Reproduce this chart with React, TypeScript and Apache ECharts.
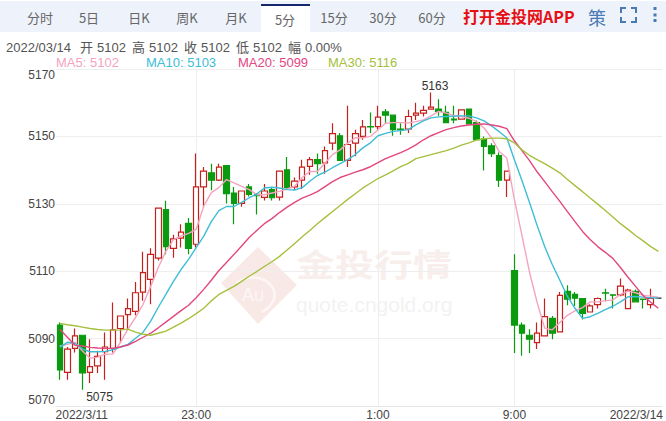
import React, { useEffect, useRef } from "react";
import * as echarts from "echarts";

const times = [
  "21:30","21:35","21:40","21:45","21:50","21:55","22:00","22:05","22:10","22:15",
  "22:20","22:25","22:30","22:35","22:40","22:45","22:50","22:55","23:00","23:05",
  "23:10","23:15","23:20","23:25","23:30","23:35","23:40","23:45","23:50","23:55",
  "0:00","0:05","0:10","0:15","0:20","0:25","0:30","0:35","0:40","0:45",
  "0:50","0:55","1:00","1:05","1:10","1:15","1:20","1:25","1:30","1:35",
  "1:40","1:45","1:50","1:55","2:00","2:05","2:10","2:15","2:20","2:25",
  "9:00","9:05","9:10","9:15","9:20","9:25","9:30","9:35","9:40","9:45",
  "9:50","9:55","10:00","10:05","10:10","10:15","10:20","10:25","10:30","10:35",
];
const labelledTicks: Record<number, string> = { 0: "{first|2022/3/11}", 18: "23:00", 42: "1:00", 60: "9:00", 79: "{last|2022/3/14}" };
const gridTicks = [18, 42, 60];

const yTicks = { min: 5070, max: 5170, step: 20 };

// [open, close, low, high]
const candles = [
  [5094,5080.7,5077.8,5094.8],[5080,5086.9,5077.8,5087.5],[5087.1,5090.8,5085.9,5093],[5091,5079.8,5074.8,5091],
  [5080,5081.7,5076.8,5089.8],[5081.9,5084.7,5079.8,5086.4],[5086.1,5087.5,5077.8,5091.8],[5087.1,5092.6,5085.9,5100.7],
  [5093,5096.7,5088.8,5096.7],[5097.1,5098.9,5092.8,5101.9],[5098.1,5103.6,5096.9,5106.8],[5103.8,5109.6,5101.2,5115.8],
  [5107.6,5115,5100.2,5116.8],[5113.9,5128.7,5113.2,5128.7],[5128.3,5117.3,5115,5130.9],[5116.8,5119.6,5114,5120.8],
  [5119.8,5121.6,5117,5123.9],[5124.2,5116.8,5115,5125.8],[5118,5135,5117,5144.9],[5135,5139.7,5128.9,5140.9],
  [5139.2,5137,5134,5141.9],[5137,5140.9,5136.8,5141.9],[5141.3,5133,5130.1,5141.3],[5133.2,5130.1,5123.9,5135],
  [5130.1,5133.8,5129.1,5133.8],[5135,5132.8,5132.2,5135.9],[5132.8,5132.4,5126.8,5133.2],[5131.9,5133.8,5131,5135.9],
  [5134.2,5131.8,5131,5135],[5132,5139.7,5131,5139.7],[5140.1,5134.9,5134.1,5143.9],[5135,5136.7,5134.2,5137.8],
  [5137,5140.9,5134.4,5143.1],[5141.1,5143.1,5138.6,5143.9],[5143.1,5141.9,5138.9,5144.9],[5142.1,5145.8,5138.9,5147],
  [5148,5150.8,5146,5153.9],[5150.2,5142.9,5142.9,5151],[5142.9,5147.6,5140.9,5159.1],[5148,5150.8,5144.1,5152],
  [5150,5152.8,5149,5154.9],[5152.9,5152.8,5151,5157.1],[5152.9,5155.7,5152,5159.1],[5157.3,5156.3,5153.9,5158.1],
  [5156.3,5152,5150.2,5156.4],[5152.2,5152,5150.5,5153.9],[5152.2,5155.9,5151,5157.9],[5156.3,5156.9,5154.9,5160],
  [5156.9,5157.7,5155.9,5159.1],[5158.1,5158.7,5158.1,5163],[5158.1,5157.4,5156.1,5161],[5157.1,5154.1,5154.1,5159.1],
  [5155.1,5154.9,5153.9,5159.1],[5155.1,5157.9,5155.1,5157.9],[5158.1,5153.7,5153.7,5158.1],[5154.1,5149,5149,5154.7],
  [5149.2,5147,5139.9,5150],[5147.2,5144.9,5143.9,5148],[5144.3,5137,5135,5145.2],[5137,5139.7,5132,5139.9],
  [5110.2,5094,5085.7,5115],[5094,5091.6,5084.9,5094.8],[5091,5089.8,5085.7,5092.8],[5088.8,5091.6,5086.9,5094.8],
  [5090.8,5096.5,5090.8,5101.9],[5096,5091.6,5089.8,5096.7],[5092,5102.8,5092,5103.8],[5104,5101.7,5099.9,5105.8],
  [5103.1,5102,5099.7,5103.8],[5101.9,5097.5,5095.7,5101.9],[5097.9,5099.7,5097.9,5100.2],[5100.1,5101.9,5098.9,5102.2],
  [5103.6,5103.5,5101.1,5104.8],[5103,5102.9,5098.9,5103.1],[5103,5105.6,5102.6,5107.8],[5098.9,5104.4,5098.9,5104.8],
  [5104,5100.9,5100.9,5104.6],[5101.7,5101.6,5098.9,5101.9],[5100.1,5101.9,5098.9,5104.8],[5102,5102,5102,5102],
];

const ma5 = [
  5087.8,5088.3,5088.9,5086.3,5084.2,5084.5,5085.4,5085.4,5088.9,5092.8,
  5096.3,5100.2,5105.5,5111.1,5115.9,5119.4,5120.4,5121.2,5122.4,5129.3,
  5133.3,5134.8,5137.2,5136.2,5135.2,5134.2,5132.7,5132.7,5133.2,5133.7,
  5134.4,5135.2,5137.8,5139.6,5139.6,5142.1,5144.6,5146,5148,5149.6,
  5149.6,5150,5152,5153.9,5154.1,5154.1,5154,5154.4,5154.9,5156.1,
  5157.4,5156.9,5156.2,5155.9,5155.4,5154.4,5152.5,5149.5,5145.5,5143.6,
  5131.3,5120.6,5109.7,5100.8,5093.1,5092.6,5094.8,5096.9,5098.2,5099.2,
  5100.9,5100.9,5101.2,5101.5,5103.1,5104.1,5103.6,5102.8,5102.6,5102.3,
];
const ma10 = [
  5087.4,5088.9,5088.6,5086.9,5086.1,5086.1,5086.2,5086.7,5087.5,5088.3,
  5090.1,5091.9,5095.2,5099.3,5103.1,5107,5110.5,5113.5,5117,5120.4,
  5124.7,5128,5129.2,5129.2,5130.4,5131.8,5132.9,5134.7,5134.9,5134.7,
  5134.2,5134.1,5134.8,5136.7,5138.4,5139.4,5140.7,5141.9,5143.1,5144.6,
  5146.6,5148.1,5150.2,5150.9,5151.5,5151.7,5152,5153.4,5154.6,5155.5,
  5155.8,5155.9,5156,5156.1,5156.1,5155.5,5154.6,5153.1,5151.4,5149.6,
  5143.1,5136.9,5130.4,5123.6,5117.3,5112,5107.3,5102.5,5099,5096,
  5096.5,5097.5,5098.6,5099.6,5100.9,5102.4,5102.5,5102.3,5102.1,5102,
];
const ma20 = [
  5092.8,5090.4,5088,5087.8,5087.4,5087.2,5087.1,5087.1,5087.5,5088.1,
  5089.2,5090.4,5091.6,5093.2,5094.9,5096.6,5098.3,5099.9,5102.1,5104.6,
  5107.3,5110.2,5112.6,5115,5117.5,5120,5122.1,5124.1,5125.6,5127.4,
  5129,5130.4,5131.7,5132.6,5133.6,5135.1,5136.6,5137.8,5138.6,5139.4,
  5140.1,5141,5142.2,5143.4,5144.3,5145.2,5146.2,5147.5,5149,5150.2,
  5151.1,5152,5152.6,5153.1,5153.4,5153.6,5153.7,5153.4,5153,5152.3,
  5148.7,5145.8,5142.8,5139.5,5136.6,5133.6,5130.7,5127.7,5124.7,5121.8,
  5119.4,5117.3,5115.6,5113.8,5111.1,5108.2,5105.5,5102.8,5100.8,5099,
];
const ma30 = [
  5094.5,5094.1,5093.8,5093.4,5093,5092.7,5092.5,5092.5,5092.6,5092.8,
  5091.9,5091.3,5091,5091.6,5092.2,5093.4,5094.6,5095.9,5097.4,5099,
  5101.2,5103.1,5104.3,5105.5,5107,5108.5,5109.9,5111.4,5112.8,5114.4,
  5116.3,5118.2,5120.2,5122.1,5124.1,5125.9,5127.7,5129.5,5131.3,5133,
  5134.7,5136.1,5137.5,5138.6,5139.8,5141,5142,5143.4,5144,5144.6,
  5145.2,5145.8,5146.5,5147.4,5148.1,5148.9,5149.3,5149.5,5149.5,5149.3,
  5148.1,5146,5144.4,5143.1,5141.9,5140.6,5139.2,5137.2,5135.4,5133.6,
  5131.7,5129.9,5128,5126.1,5124.1,5122.4,5120.6,5119,5117.3,5115.9,
];

const tabs = ["分时", "5日", "日K", "周K", "月K", "5分", "15分", "30分", "60分"];
const tabCentres = [40, 89, 139, 187, 236, 285, 334, 383, 432];
const infoItems: [string, number][] = [
  ["2022/03/14", 6], ["开", 80], ["5102", 97], ["高", 132], ["5102", 149], ["收", 184], ["5102", 201],
  ["低", 236], ["5102", 253], ["幅", 288], ["0.00%", 305],
];
const legendItems: [string, number, string][] = [
  ["MA5: 5102", 56, "#f5a3bf"], ["MA10: 5103", 146, "#3dbdd6"], ["MA20: 5099", 238, "#e4467f"], ["MA30: 5116", 328, "#a5c03c"],
];

const sans = "'Liberation Sans','Noto Sans CJK SC',sans-serif";

function txt(text: string, x: number, y: number, fill: string, font: string, align = "left", z = 10, extra: any = {}) {
  return { type: "text", silent: true, z, x, y, ...extra, style: { text, fill, font, textAlign: align, textVerticalAlign: "middle" } };
}

function buildGraphic() {
  const g: any[] = [
    // Watermark
    { type: "polygon", silent: true, z: 0, shape: { points: [[258, 247], [297, 285], [258, 324], [221, 283]] }, style: { fill: "#f8e9e6" } },
    { type: "bezierCurve", silent: true, z: 0, shape: { x1: 236, y1: 283, x2: 262, y2: 312, cpx1: 262, cpy1: 265, cpx2: 292, cpy2: 295 }, style: { stroke: "#fdf6f5", lineWidth: 2.5, fill: "none" } },
    txt("Au", 253, 295, "#fdf6f5", `18px ${sans}`, "center", 0),
    txt("金投行情", 296, 262, "#f8efed", `bold 39px 'Noto Sans CJK SC',sans-serif`, "left", 0, { scaleY: 0.8 }),
    txt("quote.cngold.org", 296, 304, "#f3f2f2", `21px ${sans}`, "left", 0),
    // Tab bar
    { type: "rect", silent: true, z: 9, shape: { x: 0, y: 1, width: 666, height: 31 }, style: { fill: "#eef3fb" } },
    { type: "rect", silent: true, z: 9, shape: { x: 261, y: 4, width: 49, height: 28 }, style: { fill: "#ffffff" } },
    { type: "rect", silent: true, z: 10, shape: { x: 261, y: 4, width: 49, height: 2 }, style: { fill: "#14286e" } },
    txt("打开金投网APP", 463, 16, "#e60f14", `bold 16px 'Noto Sans CJK SC',sans-serif`),
    txt("策", 597, 17, "#4a7ab5", `18px 'Noto Sans CJK SC',sans-serif`, "center"),
  ];
  tabs.forEach((t, i) => {
    g.push(txt(t, tabCentres[i], i === 5 ? 19 : 17, "#666666", `13px 'Noto Sans CJK SC',${sans}`, "center"));
  });
  // Fullscreen icon corners
  const corners: [number, number][][] = [
    [[621, 13], [621, 8], [626, 8]],
    [[631, 8], [636, 8], [636, 13]],
    [[636, 17], [636, 22], [631, 22]],
    [[626, 22], [621, 22], [621, 17]],
  ];
  corners.forEach((points) =>
    g.push({ type: "polyline", silent: true, z: 10, shape: { points }, style: { stroke: "#4a7ab5", lineWidth: 2, fill: "none" } })
  );
  [8.5, 15, 20.5].forEach((cy) =>
    g.push({ type: "rect", silent: true, z: 10, shape: { x: 653.5, y: cy - 1.5, width: 3, height: 3 }, style: { fill: "#4a7ab5" } })
  );
  infoItems.forEach(([t, x]) => g.push(txt(t, x, 47, "#555555", `13px 'Liberation Sans','Noto Sans CJK SC',sans-serif`)));
  legendItems.forEach(([t, x, c]) => g.push(txt(t, x, 62, c, `13px ${sans}`)));
  return g;
}

export default function App() {
  const ref = useRef<HTMLDivElement>(null);
  useEffect(() => {
    document.body.style.margin = "0";
    const chart = echarts.init(ref.current!, undefined, { renderer: "svg", width: 666, height: 421 });
    const lineSeries = (name: string, data: number[], color: string) => ({
      name, type: "line", data, symbol: "none", smooth: false, silent: true, z: 4,
      lineStyle: { color, width: 1.4 },
    });
    const labelColor = "#444444";
    chart.setOption({
      animation: false,
      backgroundColor: "#ffffff",
      graphic: buildGraphic(),
      grid: { left: 56, right: 2, top: 69, bottom: 14, containLabel: false },
      xAxis: {
        type: "category",
        data: times,
        boundaryGap: true,
        axisLine: { lineStyle: { color: "#e6e6e6" } },
        axisTick: { show: false },
        axisLabel: {
          interval: (i: number) => i in labelledTicks,
          formatter: (_: string, i: number) => labelledTicks[i] ?? "",
          color: labelColor, fontSize: 12, fontFamily: sans, margin: 3,
          rich: {
            first: { color: labelColor, fontSize: 12, fontFamily: sans, padding: [0, 0, 0, 44] },
            last: { color: labelColor, fontSize: 12, fontFamily: sans, padding: [0, 44, 0, 0] },
          },
        },
        splitLine: {
          show: true, alignWithLabel: true,
          interval: (i: number) => gridTicks.includes(i),
          lineStyle: { color: "#eeeeee" },
        },
      },
      yAxis: {
        type: "value",
        min: yTicks.min, max: yTicks.max, interval: yTicks.step,
        axisLine: { show: false },
        axisTick: { show: false },
        axisLabel: {
          color: labelColor, fontSize: 12, fontFamily: sans, margin: 1,
          formatter: (v: number) => String(v),
          verticalAlignMinLabel: "bottom", verticalAlignMaxLabel: "top",
        },
        splitLine: { show: true, lineStyle: { color: "#eeeeee" } },
      },
      series: [
        {
          type: "candlestick",
          data: candles,
          barWidth: 6,
          z: 3,
          silent: true,
          itemStyle: {
            color: "#ffffff", color0: "#0a9a10", borderColor: "#c4211d", borderColor0: "#0a9a10",
            borderColorDoji: "#222222", borderWidth: 1.2,
          },
          markPoint: {
            silent: true,
            symbol: "circle", symbolSize: 0,
            data: [
              { coord: [49, 5163], value: 5163, label: { offset: [4, 4] } },
              { coord: [3, 5074.8], value: 5075, label: { position: "bottom", offset: [17, -4] } },
            ],
            label: { show: true, position: "top", color: "#333333", fontSize: 12, fontFamily: sans },
          },
        },
        lineSeries("MA5", ma5, "#f5a3bf"),
        lineSeries("MA10", ma10, "#3dbdd6"),
        lineSeries("MA20", ma20, "#e4467f"),
        lineSeries("MA30", ma30, "#a5c03c"),
      ],
    });
    return () => chart.dispose();
  }, []);
  return <div ref={ref} style={{ width: 666, height: 421 }} />;
}
